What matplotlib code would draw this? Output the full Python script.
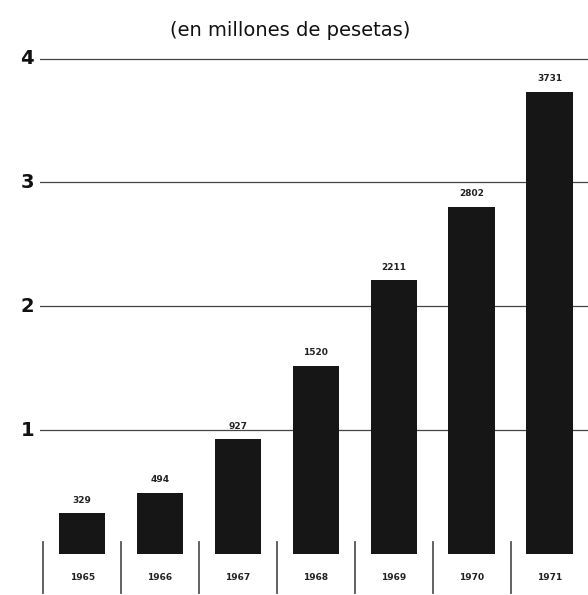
import matplotlib.pyplot as plt

# Yearly figures, in millions of pesetas
years = ['1965', '1966', '1967', '1968', '1969', '1970', '1971']
values = [329, 494, 927, 1520, 2211, 2802, 3731]
value_labels = ['329', '494', '927', '1520', '2211', '2802', '3731']
y_ticks = [1, 2, 3, 4]

fig = plt.figure(figsize=(5.88, 5.95), dpi=100)
ax = fig.add_axes([40 / 588, 0, 548 / 588, 555 / 595])

xs = list(range(len(years)))
heights = [v / 1000 for v in values]

# horizontal rules at each thousand
for t in y_ticks:
    ax.axhline(t, color='#444444', lw=0.9, zorder=1)

ax.bar(xs, heights, width=0.6, color='#161616', zorder=2)

for x, h, lab in zip(xs, heights, value_labels):
    ax.text(x, h + 0.07, lab, ha='center', va='bottom', fontsize=6.5,
            fontweight='bold', family=['Liberation Sans Narrow', 'DejaVu Sans'],
            color='#222222')

# year strip below the bars
for x, yr in zip(xs, years):
    ax.text(x, -0.19, yr, ha='center', va='center', fontsize=6.5,
            fontweight='bold', family=['Liberation Sans Narrow', 'DejaVu Sans'],
            color='#222222')
    ax.plot([x - 0.5, x - 0.5], [0.1, -0.31], color='#555555', lw=1.3, zorder=1)

ax.set_xlim(-0.54, 6.49)
ax.set_ylim(-0.33, 4.15)
ax.axis('off')

for t in y_ticks:
    fig.text(34 / 588, ax.transData.transform((0, t))[1] / fig.dpi / 5.95,
             str(t), ha='right', va='center', fontsize=14, fontweight='bold',
             color='#111111')

fig.text(290 / 588, 1 - 30 / 595, '(en millones de pesetas)', ha='center',
         va='center', fontsize=14, fontweight='medium', color='#111111')

fig.savefig('out.png', dpi=100)
